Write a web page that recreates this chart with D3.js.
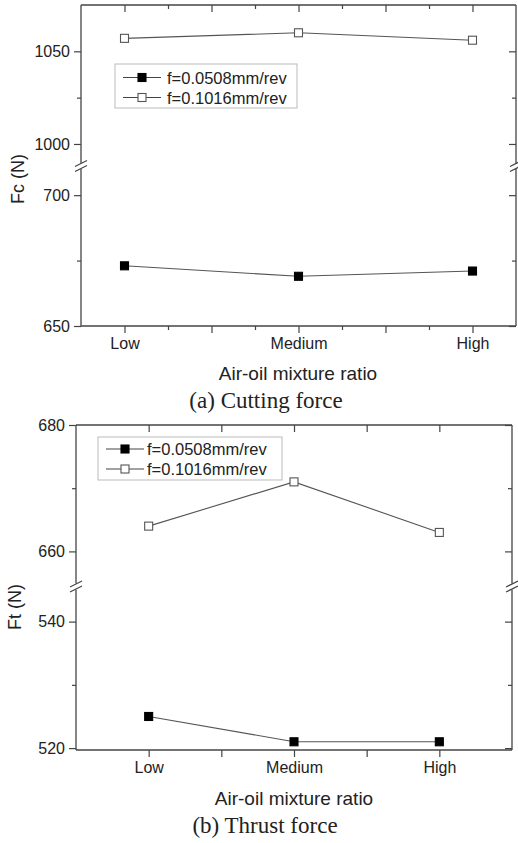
<!DOCTYPE html>
<html>
<head>
<meta charset="utf-8">
<script src="https://cdn.jsdelivr.net/npm/d3@7"></script>
<style>
  html, body { margin: 0; padding: 0; background: #fff; }
  svg { display: block; }
</style>
</head>
<body>
<div id="chart"></div>
<script>
// data
const categories  = ['Low', 'Medium', 'High'];
const seriesNames = ['f=0.0508mm/rev', 'f=0.1016mm/rev'];

const fcSlow = [673, 669, 671];      // f=0.0508
const fcFast = [1057, 1060, 1056];   // f=0.1016
const ftSlow = [525, 521, 521];
const ftFast = [664, 671, 663];

const fcUpperTicks = [1000, 1050], fcUpperMinor = [1025];
const fcLowerTicks = [650, 700],   fcLowerMinor = [675];
const ftUpperTicks = [660, 680],   ftUpperMinor = [670];
const ftLowerTicks = [520, 540],   ftLowerMinor = [530];

const W = 518, H = 843;
const sans = '"Liberation Sans", Arial, sans-serif';
const serif = '"Liberation Serif", "Times New Roman", serif';
const ink = '#222';
const frameCol = '#444';

const svg = d3.select('#chart').append('svg')
  .attr('width', W).attr('height', H);

function drawPanel(cfg) {
  const g = svg.append('g');

  const x  = d3.scaleLinear().domain(cfg.xDomain).range([cfg.left, cfg.right]);
  const yU = d3.scaleLinear().domain(cfg.upperDomain).range([cfg.breakTop, cfg.top]);
  const yL = d3.scaleLinear().domain(cfg.lowerDomain).range([cfg.bottom, cfg.breakBottom]);
  const y  = v => (v >= cfg.upperDomain[0] ? yU(v) : yL(v));

  // axes (ticks only, frame drawn by hand for the break)
  function styleAxis(sel) {
    sel.select('.domain').remove();
    sel.selectAll('line').attr('stroke', frameCol).attr('stroke-width', 1.2);
    sel.selectAll('text').attr('fill', ink)
      .style('font-family', sans).style('font-size', '16px');
  }

  [[yU, cfg.upperTicks, cfg.upperMinor], [yL, cfg.lowerTicks, cfg.lowerMinor]].forEach(([s, major, minor]) => {
    g.append('g').attr('transform', `translate(${cfg.left},0)`)
      .call(d3.axisLeft(s).tickValues(major).tickSize(7).tickPadding(4).tickFormat(d3.format('d')))
      .call(styleAxis);
    g.append('g').attr('transform', `translate(${cfg.left},0)`)
      .call(d3.axisLeft(s).tickValues(minor).tickSize(4).tickFormat(''))
      .call(styleAxis);
    // right side, ticks pointing in
    g.append('g').attr('transform', `translate(${cfg.right},0)`)
      .call(d3.axisLeft(s).tickValues(major).tickSize(7).tickFormat(''))
      .call(styleAxis);
    g.append('g').attr('transform', `translate(${cfg.right},0)`)
      .call(d3.axisLeft(s).tickValues(minor).tickSize(4).tickFormat(''))
      .call(styleAxis);
  });

  const catLabel = d => (Number.isInteger(d) ? categories[d] : '');
  g.append('g').attr('transform', `translate(0,${cfg.bottom})`)
    .call(d3.axisBottom(x).tickValues(cfg.xMajor).tickSize(7).tickPadding(5).tickFormat(catLabel))
    .call(styleAxis);
  g.append('g').attr('transform', `translate(0,${cfg.bottom})`)
    .call(d3.axisBottom(x).tickValues(cfg.xMinor).tickSize(4).tickFormat(''))
    .call(styleAxis);
  g.append('g').attr('transform', `translate(0,${cfg.top})`)
    .call(d3.axisBottom(x).tickValues(cfg.xMajor).tickSize(7).tickFormat(''))
    .call(styleAxis);
  g.append('g').attr('transform', `translate(0,${cfg.top})`)
    .call(d3.axisBottom(x).tickValues(cfg.xMinor).tickSize(4).tickFormat(''))
    .call(styleAxis);

  // frame with gaps at the break
  const bm = cfg.breakMid;
  const frame = [
    [cfg.left, cfg.top, cfg.right, cfg.top],
    [cfg.left, cfg.bottom, cfg.right, cfg.bottom],
    [cfg.left, cfg.top, cfg.left, bm - 3],
    [cfg.left, bm + 3, cfg.left, cfg.bottom],
    [cfg.right, cfg.top, cfg.right, bm - 3],
    [cfg.right, bm + 3, cfg.right, cfg.bottom]
  ];
  g.selectAll('line.frame').data(frame).join('line')
    .attr('class', 'frame')
    .attr('x1', d => d[0]).attr('y1', d => d[1])
    .attr('x2', d => d[2]).attr('y2', d => d[3])
    .attr('stroke', frameCol).attr('stroke-width', 1.3);

  // break slashes
  [cfg.left, cfg.right].forEach(ax => {
    [-2.5, 2.5].forEach(off => {
      g.append('line')
        .attr('x1', ax - 6).attr('y1', bm + off + 3)
        .attr('x2', ax + 6).attr('y2', bm + off - 3)
        .attr('stroke', frameCol).attr('stroke-width', 1.2);
    });
  });

  // series
  const series = [
    { vals: cfg.slow, fill: '#000', stroke: '#000' },
    { vals: cfg.fast, fill: '#fff', stroke: '#555' }
  ];
  const line = d3.line().x((d, i) => x(i)).y(d => y(d));
  series.forEach(s => {
    g.append('path').datum(s.vals)
      .attr('d', line)
      .attr('fill', 'none').attr('stroke', '#555').attr('stroke-width', 1.1);
    g.selectAll(null).data(s.vals).join('rect')
      .attr('x', (d, i) => x(i) - 4).attr('y', d => y(d) - 4)
      .attr('width', 8).attr('height', 8)
      .attr('fill', s.fill).attr('stroke', s.stroke).attr('stroke-width', 1.1);
  });

  // legend
  const lg = cfg.legend;
  g.append('rect')
    .attr('x', lg.x).attr('y', lg.y).attr('width', lg.w).attr('height', lg.h)
    .attr('fill', '#fff').attr('stroke', '#bbb').attr('stroke-width', 1);
  series.forEach((s, i) => {
    const ry = lg.rows[i];
    g.append('line')
      .attr('x1', lg.lineX0).attr('x2', lg.lineX1).attr('y1', ry).attr('y2', ry)
      .attr('stroke', '#444').attr('stroke-width', 1.1);
    const mx = (lg.lineX0 + lg.lineX1) / 2;
    g.append('rect')
      .attr('x', mx - 4).attr('y', ry - 4).attr('width', 8).attr('height', 8)
      .attr('fill', s.fill).attr('stroke', s.stroke).attr('stroke-width', 1.1);
    g.append('text')
      .attr('x', lg.textX).attr('y', ry)
      .attr('dominant-baseline', 'central')
      .style('font-family', sans).style('font-size', '16.5px')
      .attr('fill', ink)
      .text(seriesNames[i]);
  });

  // titles
  g.append('text')
    .attr('transform', `translate(${cfg.yTitle[0]},${cfg.yTitle[1]}) rotate(-90)`)
    .attr('text-anchor', 'middle').attr('dominant-baseline', 'central')
    .style('font-family', sans).style('font-size', '18px').attr('fill', ink)
    .text(cfg.yLabel);
  g.append('text')
    .attr('x', cfg.xTitle[0]).attr('y', cfg.xTitle[1])
    .attr('text-anchor', 'middle')
    .style('font-family', sans).style('font-size', '19px').attr('fill', ink)
    .text('Air-oil mixture ratio');
  g.append('text')
    .attr('x', cfg.caption[0]).attr('y', cfg.caption[1])
    .attr('text-anchor', 'middle')
    .style('font-family', serif).style('font-size', '23px').attr('fill', ink)
    .text(cfg.captionText);
}

// (a) Cutting force
drawPanel({
  left: 81, right: 516, top: 5, bottom: 326,
  breakTop: 162.5, breakBottom: 169, breakMid: 166,
  xDomain: [-0.25, 2.25],
  xMajor: [0, 0.5, 1, 1.5, 2], xMinor: [0.25, 0.75, 1.25, 1.75],
  upperDomain: [990, 1075], lowerDomain: [650, 710],
  upperTicks: fcUpperTicks, upperMinor: fcUpperMinor,
  lowerTicks: fcLowerTicks, lowerMinor: fcLowerMinor,
  slow: fcSlow, fast: fcFast,
  legend: { x: 115, y: 64, w: 182, h: 44, rows: [77.5, 97.5], lineX0: 123, lineX1: 161, textX: 167 },
  yLabel: 'Fc (N)', yTitle: [18, 179],
  xTitle: [298, 380],
  caption: [266, 408], captionText: '(a) Cutting force'
});

// (b) Thrust force
drawPanel({
  left: 76, right: 512, top: 425, bottom: 750,
  breakTop: 583, breakBottom: 590, breakMid: 586.5,
  xDomain: [-0.5, 2.5],
  xMajor: [0, 0.5, 1, 1.5, 2], xMinor: [],
  upperDomain: [655, 680], lowerDomain: [519.7, 545],
  upperTicks: ftUpperTicks, upperMinor: ftUpperMinor,
  lowerTicks: ftLowerTicks, lowerMinor: ftLowerMinor,
  slow: ftSlow, fast: ftFast,
  legend: { x: 98, y: 437, w: 184, h: 43, rows: [449, 469], lineX0: 106, lineX1: 144, textX: 147 },
  yLabel: 'Ft (N)', yTitle: [15, 607],
  xTitle: [294, 805],
  caption: [265, 833], captionText: '(b) Thrust force'
});
</script>
</body>
</html>
